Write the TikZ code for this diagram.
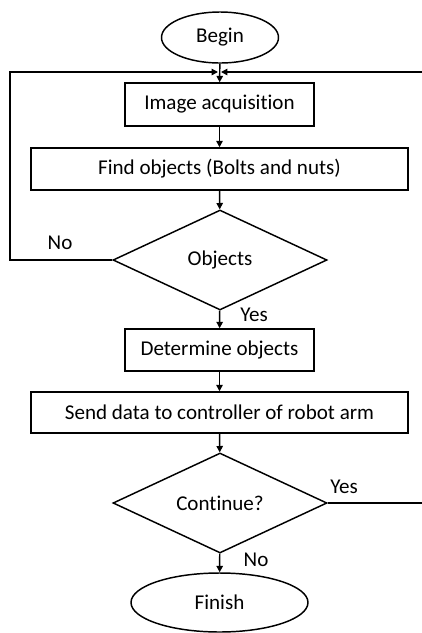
\documentclass[tikz,border=0pt]{standalone}
\usepackage{fontspec}
\setmainfont{Carlito}[Ligatures=NoCommon]
\usetikzlibrary{shapes.geometric,arrows.meta}

\begin{document}
\begin{tikzpicture}[x=0.75pt,y=-0.75pt,
  every node/.style={font=\fontsize{15.8}{19}\selectfont},
  line/.style={draw=black,line width=1.1pt},
  terminal/.style={line,ellipse,inner sep=0pt},
  stepbox/.style={line,rectangle,inner sep=0pt},
  decision/.style={line,diamond,aspect=2.14,inner sep=0pt,
    minimum width={214*0.75pt},minimum height={100*0.75pt}},
  arr/.style={line,-{Triangle[length=4.8pt,width=4.8pt]}},
  lbl/.style={inner sep=0pt}]
\useasboundingbox (0,0) rectangle (422,633);

% process nodes
\node[terminal,minimum width={117*0.75pt},minimum height={51*0.75pt}] (begin) at (220,37.5) {Begin};
\node[stepbox,minimum width={189*0.75pt},minimum height={43*0.75pt}] (img) at (219.5,104.5) {Image acquisition};
\node[stepbox,minimum width={377*0.75pt},minimum height={42*0.75pt}] (find) at (219.5,169) {Find objects (Bolts and nuts)};
\node[decision] (obj) at (220,260) {Objects};
\node[stepbox,minimum width={189*0.75pt},minimum height={42*0.75pt}] (det) at (219.5,350) {Determine objects};
\node[stepbox,minimum width={377*0.75pt},minimum height={41*0.75pt}] (send) at (219.5,412.5) {Send data to controller of robot arm};
\node[decision] (cont) at (220,503) {Continue?};
\node[terminal,minimum width={177*0.75pt},minimum height={59*0.75pt}] (fin) at (219.5,602.5) {Finish};

% loop-back corner points
\coordinate (lb) at (10,260);
\coordinate (lt) at (10,72);
\coordinate (jl) at (218,72);
\coordinate (rb) at (424,503);
\coordinate (rt) at (424,72);
\coordinate (jr) at (221,72);

% main flow
\draw[arr] (begin) -- (img);
\draw[arr] (img) -- (find);
\draw[arr] (find) -- (obj);
\draw[arr] (obj) -- (det);
\draw[arr] (det) -- (send);
\draw[arr] (send) -- (cont);
\draw[arr] (cont) -- (fin);

% loops back to the acquisition step
\draw[arr] (obj.west) -- (lb) -- (lt) -- (jl);
\draw[arr] (cont.east) -- (rb) -- (rt) -- (jr);

% branch labels
\node[lbl] (no1) at (60,243) {No};
\node[lbl] (yes1) at (254,315) {Yes};
\node[lbl] (yes2) at (344,487) {Yes};
\node[lbl] (no2) at (256,560) {No};
\end{tikzpicture}
\end{document}
